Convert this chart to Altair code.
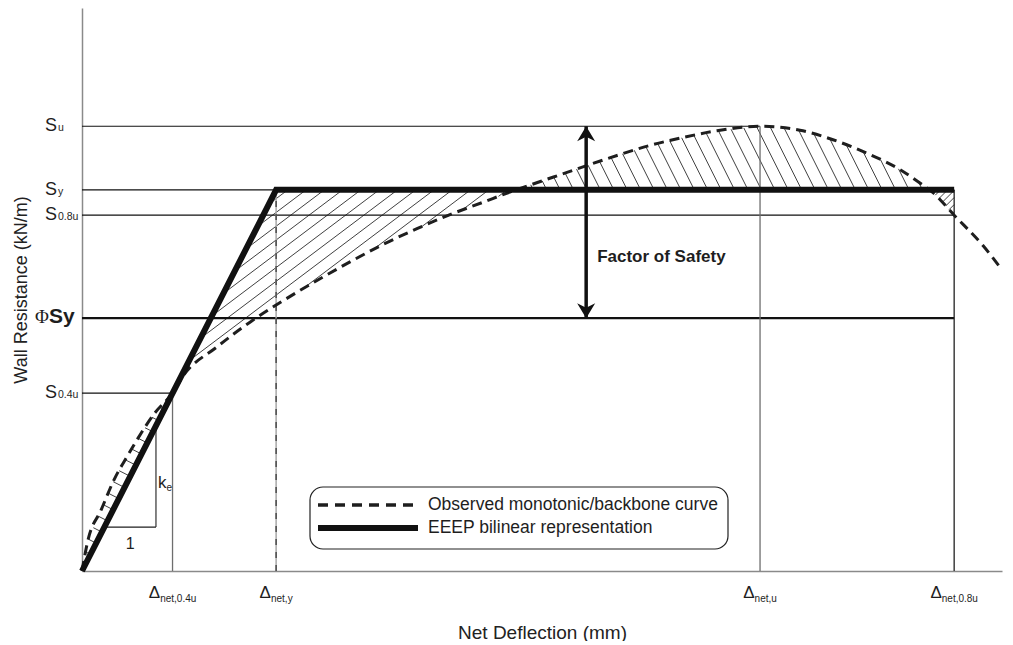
import altair as alt
import numpy as np
import pandas as pd

# ---------------- values ----------------
# observed monotonic / backbone curve (Net deflection in mm, wall resistance in kN/m)
curve_x = [0.0, 0.65, 2.07, 3.48, 5.0, 5.98, 7.93, 9.84, 10.98, 14.67, 18.26, 21.85,
           25.54, 29.13, 32.72, 36.41, 40.0, 43.59, 46.5, 49.5, 52.72, 55.2, 58.15,
           61.74, 65.33, 69.02, 73.7, 78.04, 81.63, 85.33, 88.91, 91.0, 92.5, 94.8, 97.93, 100.0]
curve_y = [0.0, 5.5, 10.8, 16.2, 20.6, 23.3, 28.1, 31.6, 34.6, 39.8, 44.2, 48.0,
           51.6, 54.9, 58.0, 60.8, 63.3, 65.5, 67.3, 69.0, 70.8, 72.2, 73.8,
           75.6, 77.0, 78.2, 79.0, 78.3, 76.6, 74.2, 71.3, 69.0, 67.2, 63.2, 57.8, 53.5]

# EEEP bilinear representation
eeep_x = [0.0, 21.1, 94.8]
eeep_y = [0.0, 67.7, 67.7]

# resistance levels (S_u, S_y, S_0.8u, S_0.4u) and where their guide lines end
s_subs = ["u", "y", "0.8u", "0.4u"]
s_values = [79.0, 67.7, 63.2, 31.6]
s_line_end = [73.7, 94.8, 94.8, 9.84]

phi_sy = 44.9
phi_line_end = 94.8

# deflection levels and where their guide lines end
delta_subs = ["net,0.4u", "net,y", "net,u", "net,0.8u"]
delta_values = [9.84, 21.1, 73.7, 94.8]
delta_line_top = [31.6, 67.7, 79.0, 67.7]

slope_run = [2.43, 8.04]          # stiffness triangle "1 / k_e"
fos_at = 54.8                     # factor of safety arrow position
legend_labels = ["Observed monotonic/backbone curve", "EEEP bilinear representation"]

# ---------------- layout ----------------
W, H = 920, 563
XMAX, YMAX = 100.0, 100.0
KX, KY = W / XMAX, H / YMAX
FONT = "Liberation Sans"
INK = "#1e1e1e"

xs = alt.Scale(domain=[0, XMAX], nice=False, zero=False)
ys = alt.Scale(domain=[0, YMAX], nice=False, zero=False)
XT, YT = "Net Deflection (mm)", "Wall Resistance (kN/m)"


def X(f="x"):
    return alt.X(f"{f}:Q", scale=xs, title=XT)


def Y(f="y"):
    return alt.Y(f"{f}:Q", scale=ys, title=YT)


def X2(f="x2"):
    return alt.X2(f"{f}:Q")


def Y2(f="y2"):
    return alt.Y2(f"{f}:Q")


one = pd.DataFrame({"k": [0]})

# ---------------- hatching (derived from curve and EEEP) ----------------
cx = np.array(curve_x)
cy = np.array(curve_y)
diff = cy - np.interp(cx, eeep_x, eeep_y)
cross = []
for i in range(1, len(cx) - 1):
    if diff[i] * diff[i + 1] < 0:
        cross.append(cx[i] + diff[i] / (diff[i] - diff[i + 1]) * (cx[i + 1] - cx[i]))


def region_polygon(xa, xb):
    ex = [xa] + [v for v in eeep_x if xa < v < xb] + [xb]
    ey = np.interp(ex, eeep_x, eeep_y)
    qx = [xa] + [v for v in curve_x if xa < v < xb] + [xb]
    qy = np.interp(qx, curve_x, curve_y)
    pts = list(zip(ex, ey)) + list(zip(qx[::-1], qy[::-1]))
    return np.array([(px * KX, py * KY) for px, py in pts])


def hatch(poly, theta_deg, spacing, phase=0.5):
    t = np.radians(theta_deg)
    d = np.array([np.cos(t), np.sin(t)])
    n = np.array([-np.sin(t), np.cos(t)])
    proj = poly @ n
    segs = []
    c = proj.min() + spacing * phase
    while c < proj.max():
        hits = []
        for i in range(len(poly)):
            p, q = poly[i], poly[(i + 1) % len(poly)]
            fp, fq = p @ n - c, q @ n - c
            if (fp < 0) != (fq < 0):
                hits.append(p + (fp / (fp - fq)) * (q - p))
        hits.sort(key=lambda h: h @ d)
        for a, b in zip(hits[0::2], hits[1::2]):
            segs.append((a[0] / KX, a[1] / KY, b[0] / KX, b[1] / KY))
        c += spacing
    return segs


c1, c2, c3 = cross[0], cross[1], cross[2]
segs = []
segs += hatch(region_polygon(0.0, c1), -26.9, 12.5)
segs += hatch(region_polygon(c1, c2), 37.0, 11.0)
segs += hatch(region_polygon(c2, c3), 116.6, 12.0)
segs += hatch(region_polygon(c3, eeep_x[-1]), 45.0, 5.0)
hatch_df = pd.DataFrame(segs, columns=["x", "y", "x2", "y2"])

layers = []
layers.append(alt.Chart(hatch_df).mark_rule(color="#2a2a2a", strokeWidth=0.9)
              .encode(x=X(), y=Y(), x2=X2(), y2=Y2()))

# ---------------- guide lines ----------------
lev = pd.DataFrame({"y": s_values, "x": 0.0, "x2": s_line_end})
layers.append(alt.Chart(lev).mark_rule(color="#111", strokeWidth=1.2)
              .encode(x=X(), x2=X2(), y=Y()))
phi_df = pd.DataFrame({"y": [phi_sy], "x": [0.0], "x2": [phi_line_end]})
layers.append(alt.Chart(phi_df).mark_rule(color="#111", strokeWidth=2.2)
              .encode(x=X(), x2=X2(), y=Y()))

vdf = pd.DataFrame({"x": delta_values, "y": 0.0, "y2": delta_line_top, "i": range(4)})
layers.append(alt.Chart(vdf[vdf.i.isin([0, 2])]).mark_rule(color="#6e6e6e", strokeWidth=1.3)
              .encode(x=X(), y=Y(), y2=Y2()))
layers.append(alt.Chart(vdf[vdf.i == 3]).mark_rule(color="#222", strokeWidth=1.3)
              .encode(x=X(), y=Y(), y2=Y2()))
layers.append(alt.Chart(vdf[vdf.i == 1]).mark_rule(color="#a8a8a8", strokeWidth=1.5)
              .encode(x=X(), y=Y(), y2=Y2()))
layers.append(alt.Chart(vdf[vdf.i == 1]).mark_rule(color="#4a4a4a", strokeWidth=1.5, strokeDash=[6, 7])
              .encode(x=X(), y=Y(), y2=Y2()))

# stiffness triangle
ya = float(np.interp(slope_run[0], eeep_x, eeep_y))
yb = float(np.interp(slope_run[1], eeep_x, eeep_y))
tri = pd.DataFrame({"x": [slope_run[0], slope_run[1]], "x2": [slope_run[1], slope_run[1]],
                    "y": [ya, ya], "y2": [ya, yb]})
layers.append(alt.Chart(tri).mark_rule(color=INK, strokeWidth=1.1)
              .encode(x=X(), x2=X2(), y=Y(), y2=Y2()))

# ---------------- curves ----------------
cdf = pd.DataFrame({"x": curve_x, "y": curve_y})
layers.append(alt.Chart(cdf).mark_line(color=INK, strokeWidth=3, strokeDash=[10, 6],
                                       interpolate="monotone")
              .encode(x=X(), y=Y()))
edf = pd.DataFrame({"x": eeep_x, "y": eeep_y})
layers.append(alt.Chart(edf).mark_line(color="#111", strokeWidth=6, strokeJoin="miter",
                                       strokeCap="butt")
              .encode(x=X(), y=Y()))

# ---------------- factor of safety arrow ----------------
S_u = s_values[0]
shaft = pd.DataFrame({"x": [fos_at], "y": [phi_sy], "y2": [S_u]})
layers.append(alt.Chart(shaft).mark_rule(color="#111", strokeWidth=3.5)
              .encode(x=X(), y=Y(), y2=Y2()))
up = pd.DataFrame({"x": [fos_at], "y": [S_u]})
dn = pd.DataFrame({"x": [fos_at], "y": [phi_sy]})
layers.append(alt.Chart(up).mark_point(shape="M0,0 L0.6,1 L0,0.7 L-0.6,1 Z", size=900,
                                       filled=True, color="#111", opacity=1, strokeWidth=0)
              .encode(x=X(), y=Y()))
layers.append(alt.Chart(dn).mark_point(shape="M0,0 L0.6,-1 L0,-0.7 L-0.6,-1 Z", size=900,
                                       filled=True, color="#111", opacity=1, strokeWidth=0)
              .encode(x=X(), y=Y()))
fos_txt = pd.DataFrame({"x": [fos_at], "y": [phi_sy + 0.32 * (S_u - phi_sy)],
                        "t": ["Factor of Safety"]})
layers.append(alt.Chart(fos_txt).mark_text(font=FONT, fontSize=17, fontWeight="bold", color=INK,
                                           align="left", baseline="middle", dx=11)
              .encode(x=X(), y=Y(), text="t:N"))

# ---------------- left labels ----------------
sl = pd.DataFrame({"y": s_values, "sub": s_subs, "S": "S"})
layers.append(alt.Chart(sl).mark_text(font=FONT, fontSize=18, color=INK, align="right",
                                      baseline="alphabetic", dy=5)
              .encode(x=alt.value(-25), y=Y(), text="S:N"))
layers.append(alt.Chart(sl).mark_text(font=FONT, fontSize=10.5, color=INK, align="left",
                                      baseline="alphabetic", dy=5)
              .encode(x=alt.value(-24), y=Y(), text="sub:N"))
ph = pd.DataFrame({"y": [phi_sy], "a": ["Φ"], "b": ["Sy"]})
layers.append(alt.Chart(ph).mark_text(font="Liberation Serif", fontSize=19, color=INK, align="right",
                                      baseline="alphabetic", dy=5)
              .encode(x=alt.value(-33), y=Y(), text="a:N"))
layers.append(alt.Chart(ph).mark_text(font=FONT, fontSize=21, fontWeight="bold", color=INK,
                                      align="left", baseline="alphabetic", dy=5)
              .encode(x=alt.value(-33), y=Y(), text="b:N"))

# ---------------- bottom labels ----------------
AW = {'n': 556, 'e': 556, 't': 278, ',': 278, '0': 556, '.': 278, '4': 556, '8': 556,
      'u': 556, 'y': 500, 'Δ': 668}


def tw(s, size):
    return sum(AW.get(ch, 556) for ch in s) / 1000.0 * size


D_SIZE, SUB_SIZE = 17, 10
wd = tw("Δ", D_SIZE)
bx = [v + (wd - tw(s, SUB_SIZE)) / 2.0 / KX for v, s in zip(delta_values, delta_subs)]
bl = pd.DataFrame({"x": bx, "sub": delta_subs, "D": "Δ"})
layers.append(alt.Chart(bl).mark_text(font=FONT, fontSize=D_SIZE, color=INK, align="right",
                                      baseline="alphabetic")
              .encode(x=X(), y=alt.value(H + 27), text="D:N"))
layers.append(alt.Chart(bl).mark_text(font=FONT, fontSize=SUB_SIZE, color=INK, align="left",
                                      baseline="alphabetic")
              .encode(x=X(), y=alt.value(H + 30.5), text="sub:N"))

# stiffness labels
one_lbl = pd.DataFrame({"x": [(slope_run[0] + slope_run[1]) / 2], "y": [ya], "t": ["1"]})
layers.append(alt.Chart(one_lbl).mark_text(font=FONT, fontSize=16, color=INK, align="center",
                                           baseline="alphabetic", dy=22)
              .encode(x=X(), y=Y(), text="t:N"))
ke = pd.DataFrame({"x": [slope_run[1]], "y": [(ya + yb) / 2], "k": ["k"], "e": ["e"]})
layers.append(alt.Chart(ke).mark_text(font=FONT, fontSize=17, color=INK, align="left",
                                      baseline="alphabetic", dx=2, dy=12)
              .encode(x=X(), y=Y(), text="k:N"))
layers.append(alt.Chart(ke).mark_text(font=FONT, fontSize=10, color=INK, align="left",
                                      baseline="alphabetic", dx=10.5, dy=15)
              .encode(x=X(), y=Y(), text="e:N"))

# ---------------- legend ----------------
layers.append(alt.Chart(one).mark_rect(fill="white", stroke="#222", strokeWidth=1.2,
                                       cornerRadius=13)
              .encode(x=alt.value(228), x2=alt.value(646), y=alt.value(479), y2=alt.value(541)))
layers.append(alt.Chart(one).mark_rule(color=INK, strokeWidth=3.5, strokeDash=[10, 7])
              .encode(x=alt.value(236), x2=alt.value(333), y=alt.value(497)))
layers.append(alt.Chart(one).mark_rule(color="#111", strokeWidth=6)
              .encode(x=alt.value(236), x2=alt.value(336), y=alt.value(520)))
leg = pd.DataFrame({"t": legend_labels})
layers.append(alt.Chart(leg.iloc[[0]]).mark_text(font=FONT, fontSize=17.5, color=INK, align="left",
                                                 baseline="middle")
              .encode(x=alt.value(346), y=alt.value(497), text="t:N"))
layers.append(alt.Chart(leg.iloc[[1]]).mark_text(font=FONT, fontSize=17.5, color=INK, align="left",
                                                 baseline="middle")
              .encode(x=alt.value(346), y=alt.value(520), text="t:N"))

chart = (
    alt.layer(*layers)
    .properties(width=W, height=H, autosize=alt.AutoSizeParams(type="none"),
                padding={"left": 74, "top": 0, "right": 3, "bottom": 70},
                background="white")
    .configure_view(stroke=None)
    .configure_axis(grid=False, ticks=False, labels=False, domainColor="#8a8a8a",
                    domainWidth=1.5, titleFont=FONT, titleFontWeight="normal", titleColor="#222")
    .configure_axisX(titlePadding=52, titleFontSize=19)
    .configure_axisY(titlePadding=52, titleFontSize=18)
)

chart.save("out.html", embed_options={"renderer": "svg", "actions": False})
